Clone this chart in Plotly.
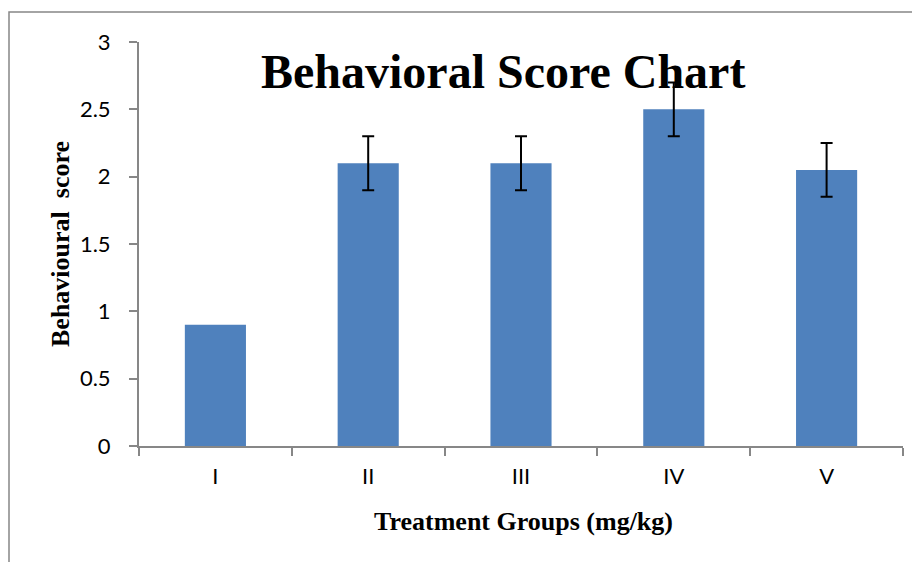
import plotly.graph_objects as go

groups = ["I", "II", "III", "IV", "V"]
scores = [0.9, 2.1, 2.1, 2.5, 2.05]
errors = [0, 0.2, 0.2, 0.2, 0.2]
y_ticks = [0, 0.5, 1, 1.5, 2, 2.5, 3]

axis_col = "#878787"
bar_col = "#4F81BD"

# groups without an error bar (error 0) drawn as plain bars, the rest with error bars
plain = [i for i, e in enumerate(errors) if not e]
witherr = [i for i, e in enumerate(errors) if e]

fig = go.Figure()
fig.add_trace(go.Bar(
    x=[groups[i] for i in plain], y=[scores[i] for i in plain],
    marker=dict(color=bar_col, line=dict(width=0)),
))
fig.add_trace(go.Bar(
    x=[groups[i] for i in witherr], y=[scores[i] for i in witherr],
    marker=dict(color=bar_col, line=dict(width=0)),
    error_y=dict(type="data", array=[errors[i] for i in witherr], visible=True,
                 color="black", thickness=2, width=6),
))

# page body has an 8px margin, compensate so plot area sits at x 139-903, y 42-446 on screen
L, R, T, B = 131, 25, 34, 124
pw, ph = 764, 404

def px(x):
    return (x - 139) / pw

def py(y):
    return (446 - y) / ph

serif = "Liberation Serif, Times New Roman, serif"
fig.update_layout(
    width=920, height=562,
    margin=dict(l=L, r=R, t=T, b=B),
    paper_bgcolor="white", plot_bgcolor="white",
    barmode="overlay",
    bargap=0.6,
    showlegend=False,
    font=dict(family="Lato, Open Sans, sans-serif", size=22, color="black"),
    xaxis=dict(categoryorder="array", categoryarray=groups,
               showline=True, linecolor=axis_col, linewidth=2, ticks="outside", tickson="boundaries",
               ticklen=8, tickcolor=axis_col, tickwidth=2, showgrid=False, tickfont=dict(size=22),
               ticklabelstandoff=10),
    yaxis=dict(range=[0, 3], tickvals=y_ticks, showline=True, linecolor=axis_col, linewidth=2,
               ticks="outside", ticklen=8, tickcolor=axis_col, tickwidth=2, showgrid=False,
               zeroline=False, tickfont=dict(size=22), ticklabelstandoff=14),
    shapes=[dict(type="rect", xref="paper", yref="paper", x0=px(9), x1=px(940),
                 y0=py(600), y1=py(12), line=dict(color=axis_col, width=1.5), layer="below")],
    annotations=[
        dict(text="<b>Behavioral Score Chart</b>", xref="paper", yref="paper",
             x=px(503), y=py(72), xanchor="center", yanchor="middle", showarrow=False,
             font=dict(family=serif, size=48, color="black")),
        dict(text="<b>Behavioural  score</b>", xref="paper", yref="paper",
             x=px(60), y=py(244), xanchor="center", yanchor="middle", showarrow=False, textangle=-90,
             font=dict(family=serif, size=26, color="black")),
        dict(text="<b>Treatment Groups (mg/kg)</b>", xref="paper", yref="paper",
             x=px(523), y=py(521), xanchor="center", yanchor="middle", showarrow=False,
             font=dict(family=serif, size=26, color="black")),
    ],
)

fig.write_html("out.html")
